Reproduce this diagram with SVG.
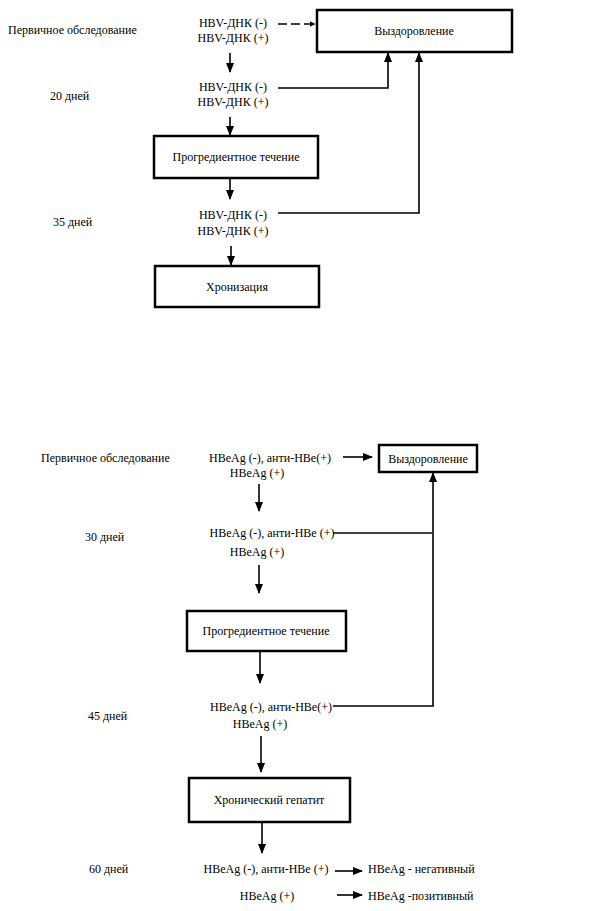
<svg xmlns="http://www.w3.org/2000/svg" width="614" height="911" viewBox="0 0 614 911">
<style>
text{font-family:"Liberation Serif","DejaVu Serif","Times New Roman",serif;font-size:12px;fill:#000}
.m{text-anchor:middle}
.box{fill:#fff;stroke:#000;stroke-width:2.5}
.c{fill:none;stroke:#000;stroke-width:1.6}
</style>
<defs>
<marker id="ah" viewBox="0 0 10 10" refX="9" refY="5" markerWidth="6" markerHeight="6" orient="auto" markerUnits="userSpaceOnUse">
<path d="M0,0 L10,5 L0,10 z" fill="#000"/>
</marker>
<marker id="ahb" viewBox="0 0 10 10" refX="9" refY="5" markerWidth="10" markerHeight="10" orient="auto" markerUnits="userSpaceOnUse">
<path d="M0,1 L10,5 L0,9 z" fill="#000"/>
</marker>
</defs>
<rect width="614" height="911" fill="#fff"/>

<g id="labels">
<text x="8" y="34">Первичное обследование</text>
<text x="50" y="100">20 дней</text>
<text x="53" y="226">35 дней</text>
<text x="41" y="462">Первичное обследование</text>
<text x="85" y="541">30 дней</text>
<text x="88" y="720">45 дней</text>
<text x="89" y="873">60 дней</text>
</g>

<g id="t1">
<text class="m" x="233" y="27">HBV-ДНК (-)</text>
<text class="m" x="233" y="42">HBV-ДНК (+)</text>
</g>
<g id="t2">
<text class="m" x="233" y="91">HBV-ДНК (-)</text>
<text class="m" x="233" y="106">HBV-ДНК (+)</text>
</g>
<g id="t3">
<text class="m" x="233" y="219">HBV-ДНК (-)</text>
<text class="m" x="233" y="235">HBV-ДНК (+)</text>
</g>
<g id="recovery1">
<rect class="box" x="317" y="10" width="195" height="42"/>
<text class="m" x="414" y="35">Выздоровление</text>
</g>
<g id="progress1">
<rect class="box" x="154" y="136" width="164" height="42"/>
<text class="m" x="236" y="161">Прогредиентное течение</text>
</g>
<g id="chronic1">
<rect class="box" x="155" y="266" width="164" height="41"/>
<text class="m" x="237" y="291">Хронизация</text>
</g>

<g id="b1">
<text class="m" x="270" y="462">HBeAg (-), анти-HBe(+)</text>
<text class="m" x="257" y="477">HBeAg (+)</text>
</g>
<g id="b2">
<text class="m" x="272" y="537">HBeAg (-), анти-HBe  (+)</text>
<text class="m" x="257" y="556">HBeAg (+)</text>
</g>
<g id="b3">
<text class="m" x="271" y="711">HBeAg (-), анти-HBe(+)</text>
<text class="m" x="260" y="728">HBeAg (+)</text>
</g>
<g id="b4">
<text class="m" x="266" y="873">HBeAg (-), анти-HBe (+)</text>
<text class="m" x="267" y="900">HBeAg (+)</text>
</g>
<g id="recovery2">
<rect class="box" x="379" y="445" width="98" height="27"/>
<text class="m" x="428" y="463">Выздоровление</text>
</g>
<g id="progress2">
<rect class="box" x="187" y="611" width="159" height="40"/>
<text class="m" x="266" y="635">Прогредиентное течение</text>
</g>
<g id="chronic2">
<rect class="box" x="189" y="778" width="161" height="44"/>
<text class="m" x="269" y="804">Хронический гепатит</text>
</g>
<g id="neg">
<text x="368" y="873">HBeAg - негативный</text>
</g>
<g id="pos">
<text x="368" y="900">HBeAg -позитивный</text>
</g>

<g id="connectors">
<path class="c" d="M278,24 H315" stroke-dasharray="9,4" marker-end="url(#ah)"/>
<path class="c" d="M230,53 V72" marker-end="url(#ahb)"/>
<path class="c" d="M278,88 H388 V53" marker-end="url(#ahb)"/>
<path class="c" d="M230,117 V135" marker-end="url(#ahb)"/>
<path class="c" d="M230,179 V199" marker-end="url(#ahb)"/>
<path class="c" d="M278,213 H419 V53" marker-end="url(#ahb)"/>
<path class="c" d="M231,246 V265" marker-end="url(#ahb)"/>

<path class="c" d="M343,457 H372" marker-end="url(#ahb)"/>
<path class="c" d="M259,484 V511" marker-end="url(#ahb)"/>
<path class="c" d="M333,533 H432"/>
<path class="c" d="M333,706 H433 V473" marker-end="url(#ahb)"/>
<path class="c" d="M259,565 V593" marker-end="url(#ahb)"/>
<path class="c" d="M260,652 V683" marker-end="url(#ahb)"/>
<path class="c" d="M261,736 V772" marker-end="url(#ahb)"/>
<path class="c" d="M262,823 V853" marker-end="url(#ahb)"/>
<path class="c" d="M335,871 H362" marker-end="url(#ahb)"/>
<path class="c" d="M337,895 H362" marker-end="url(#ahb)"/>
</g>
</svg>
